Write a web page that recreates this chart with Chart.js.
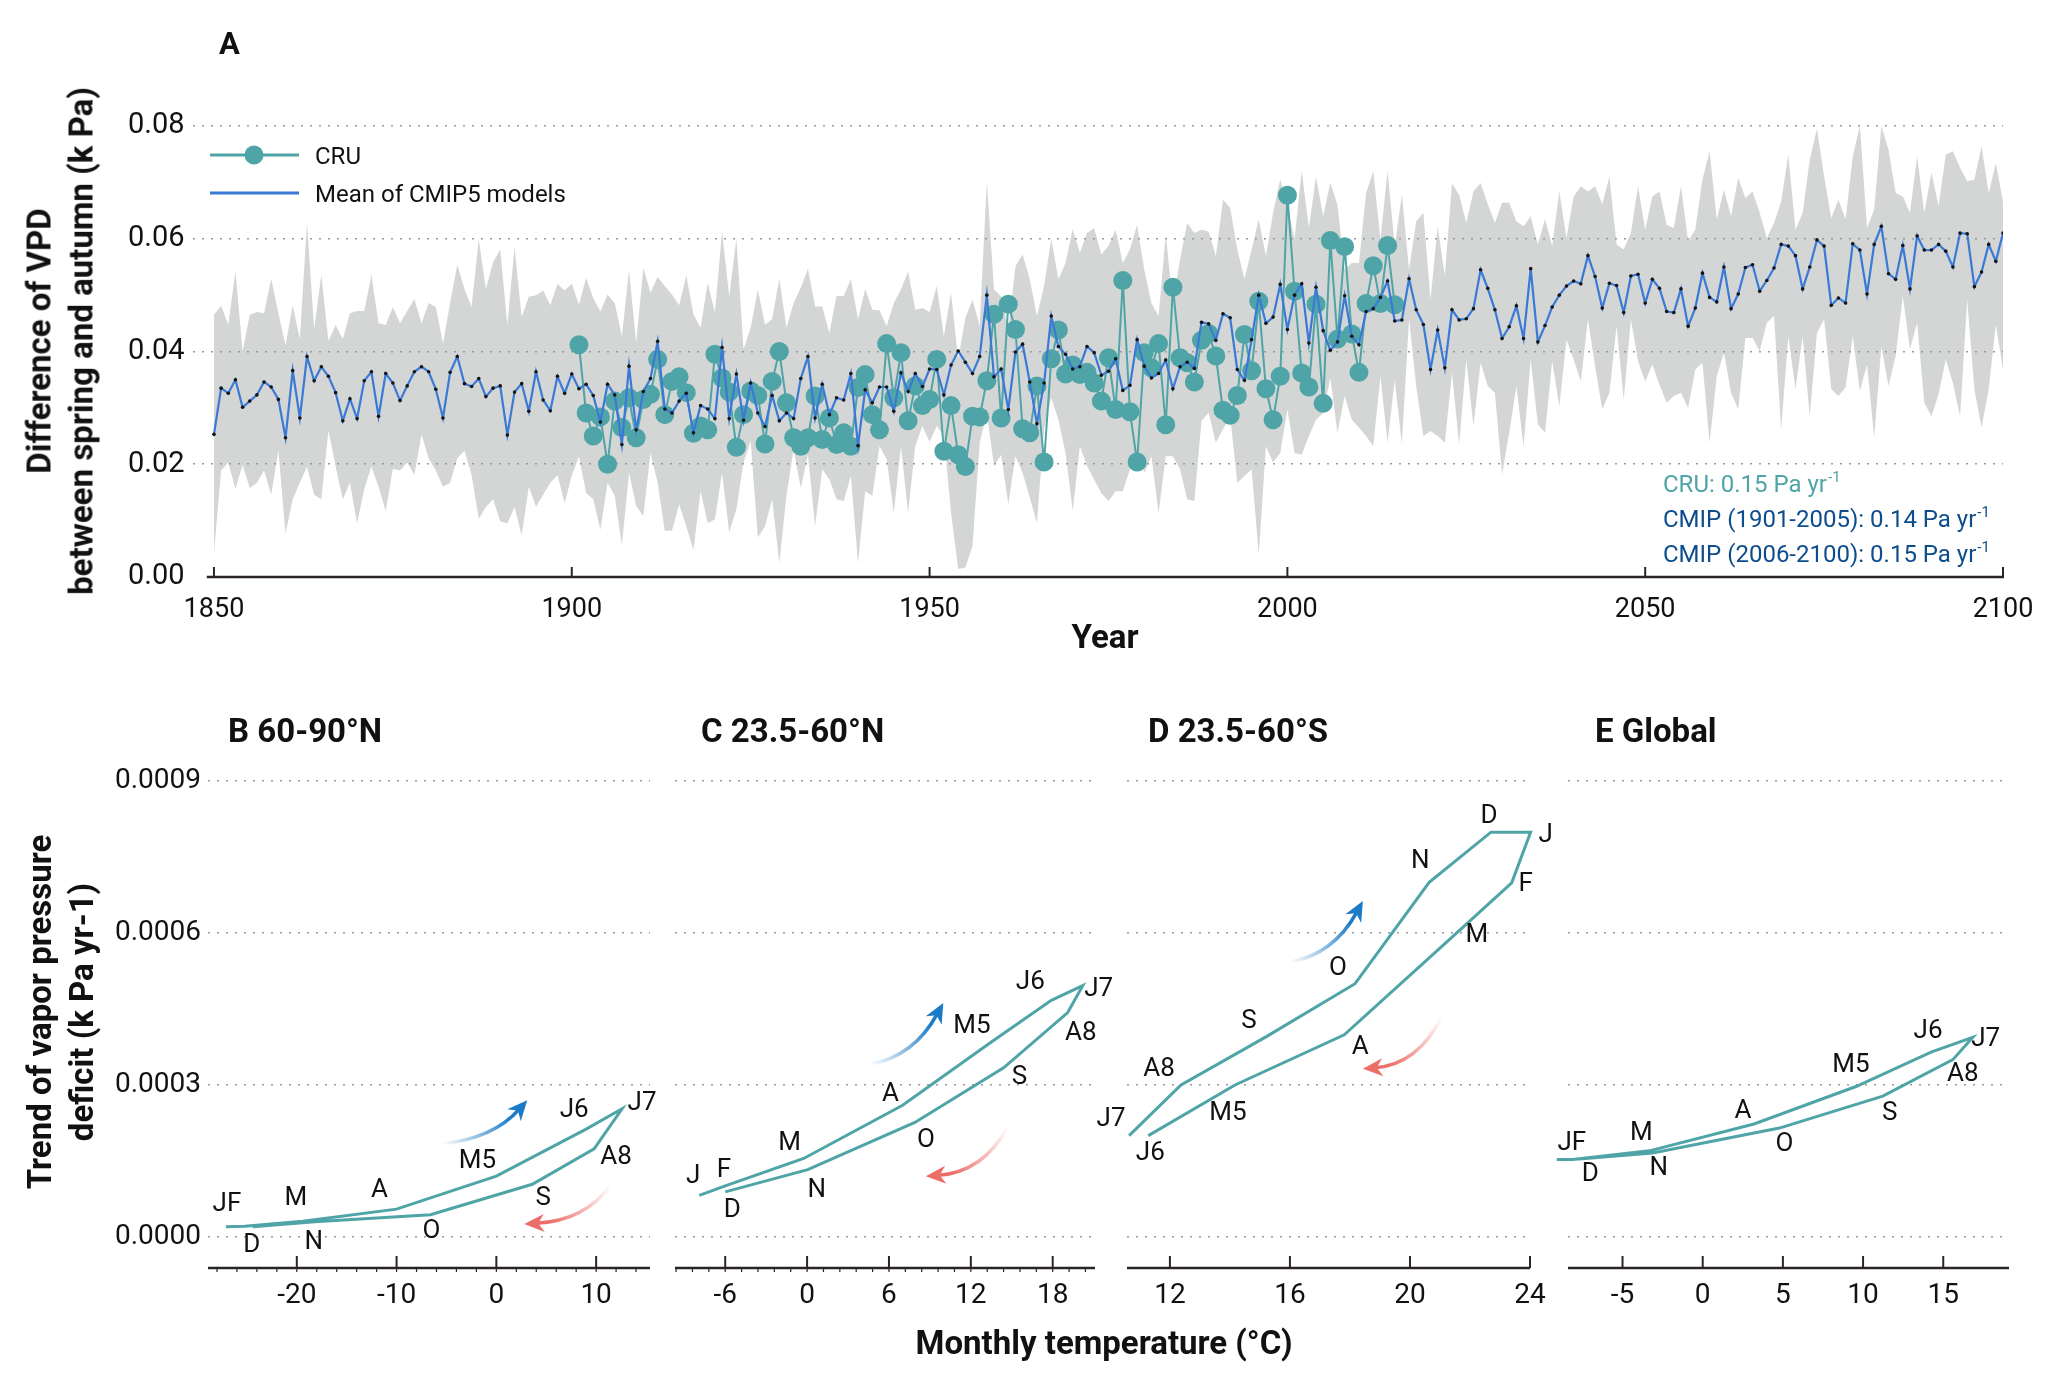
<!DOCTYPE html>
<html>
<head>
<meta charset="utf-8">
<title>VPD difference and trends</title>
<script src="https://cdn.jsdelivr.net/npm/chart.js@4.4.1/dist/chart.umd.min.js"></script>
<style>
  html, body { margin: 0; padding: 0; background: #fff; }
  #fig { position: relative; width: 2056px; height: 1398px; overflow: hidden; font-family: Roboto, sans-serif; color: #111; background: #fff; }
  #fig canvas { position: absolute; }
  .ttl { position: absolute; font-weight: bold; font-size: 33px; white-space: nowrap; line-height: 1; transform: translate(-50%, -50%); }
  .rot { transform: translate(-50%, -50%) rotate(-90deg); }
</style>
</head>
<body>
<div id="fig">
  <canvas id="top" width="2056" height="660" style="left:0;top:0;width:2056px;height:660px"></canvas>
  <canvas id="pB" width="680" height="640" style="left:0;top:700px;width:680px;height:640px"></canvas>
  <canvas id="pC" width="465" height="640" style="left:655px;top:700px;width:465px;height:640px"></canvas>
  <canvas id="pD" width="495" height="640" style="left:1080px;top:700px;width:495px;height:640px"></canvas>
  <canvas id="pE" width="511" height="640" style="left:1545px;top:700px;width:511px;height:640px"></canvas>

  <div class="ttl rot" style="left:39px;top:341px">Difference of VPD</div>
  <div class="ttl rot" style="left:81px;top:341px">between spring and autumn (k Pa)</div>
  <div class="ttl" style="left:1105px;top:636px">Year</div>
  <div class="ttl rot" style="left:39px;top:1012px">Trend of vapor pressure</div>
  <div class="ttl rot" style="left:81px;top:1012px">deficit (k Pa yr-1)</div>
  <div class="ttl" style="left:1104px;top:1342px">Monthly temperature (°C)</div>
</div>

<script>
// ---- Panel A data (kPa), yearly values ----
const cmipStartYear = 1850;
const cruStartYear = 1901;

// mean of CMIP5 models, 1850-2100
const cmipMean = [
  0.0253, 0.0335, 0.0326, 0.0350, 0.0301, 0.0312, 0.0323, 0.0346, 0.0337, 0.0315,
  0.0247, 0.0366, 0.0282, 0.0391, 0.0348, 0.0373, 0.0356, 0.0327, 0.0277, 0.0316,
  0.0281, 0.0348, 0.0364, 0.0285, 0.0361, 0.0344, 0.0313, 0.0339, 0.0364, 0.0373,
  0.0364, 0.0333, 0.0282, 0.0363, 0.0391, 0.0343, 0.0338, 0.0352, 0.0320, 0.0335,
  0.0339, 0.0252, 0.0328, 0.0343, 0.0294, 0.0364, 0.0314, 0.0295, 0.0356, 0.0326,
  0.0360, 0.0334, 0.0342, 0.0322, 0.0275, 0.0342, 0.0323, 0.0235, 0.0374, 0.0261,
  0.0329, 0.0352, 0.0418, 0.0298, 0.0291, 0.0312, 0.0326, 0.0256, 0.0304, 0.0298,
  0.0281, 0.0407, 0.0281, 0.0360, 0.0278, 0.0344, 0.0291, 0.0267, 0.0322, 0.0277,
  0.0291, 0.0281, 0.0352, 0.0391, 0.0282, 0.0342, 0.0288, 0.0318, 0.0314, 0.0361,
  0.0233, 0.0332, 0.0309, 0.0337, 0.0337, 0.0294, 0.0362, 0.0329, 0.0361, 0.0338,
  0.0369, 0.0368, 0.0323, 0.0376, 0.0401, 0.0381, 0.0361, 0.0391, 0.0500, 0.0355,
  0.0369, 0.0297, 0.0399, 0.0413, 0.0346, 0.0272, 0.0344, 0.0463, 0.0409, 0.0395,
  0.0369, 0.0373, 0.0409, 0.0398, 0.0358, 0.0365, 0.0387, 0.0331, 0.0340, 0.0421,
  0.0374, 0.0353, 0.0361, 0.0385, 0.0334, 0.0373, 0.0381, 0.0370, 0.0452, 0.0449,
  0.0420, 0.0467, 0.0460, 0.0368, 0.0349, 0.0421, 0.0500, 0.0450, 0.0461, 0.0519,
  0.0439, 0.0500, 0.0520, 0.0415, 0.0514, 0.0437, 0.0402, 0.0417, 0.0499, 0.0427,
  0.0412, 0.0471, 0.0476, 0.0496, 0.0525, 0.0454, 0.0456, 0.0529, 0.0474, 0.0448,
  0.0368, 0.0438, 0.0371, 0.0474, 0.0456, 0.0458, 0.0476, 0.0545, 0.0512, 0.0474,
  0.0423, 0.0444, 0.0481, 0.0423, 0.0547, 0.0417, 0.0446, 0.0479, 0.0500, 0.0516,
  0.0525, 0.0520, 0.0570, 0.0533, 0.0477, 0.0521, 0.0517, 0.0469, 0.0534, 0.0537,
  0.0486, 0.0528, 0.0512, 0.0471, 0.0469, 0.0511, 0.0445, 0.0477, 0.0539, 0.0496,
  0.0488, 0.0550, 0.0476, 0.0502, 0.0549, 0.0554, 0.0507, 0.0526, 0.0548, 0.0590,
  0.0587, 0.0570, 0.0511, 0.0550, 0.0598, 0.0587, 0.0482, 0.0495, 0.0486, 0.0591,
  0.0580, 0.0502, 0.0590, 0.0622, 0.0538, 0.0528, 0.0588, 0.0511, 0.0605, 0.0580,
  0.0580, 0.0590, 0.0578, 0.0550, 0.0610, 0.0609, 0.0515, 0.0541, 0.0590, 0.0560,
  0.0610
];

// model spread, upper edge, 1850-2100
const bandUpper = [
  0.0465, 0.0481, 0.0447, 0.0543, 0.0400, 0.0465, 0.0470, 0.0468, 0.0529, 0.0468,
  0.0411, 0.0482, 0.0422, 0.0628, 0.0439, 0.0536, 0.0418, 0.0447, 0.0422, 0.0468,
  0.0472, 0.0472, 0.0536, 0.0450, 0.0447, 0.0479, 0.0450, 0.0472, 0.0493, 0.0450,
  0.0486, 0.0479, 0.0414, 0.0486, 0.0554, 0.0511, 0.0479, 0.0599, 0.0511, 0.0558,
  0.0581, 0.0447, 0.0585, 0.0461, 0.0497, 0.0500, 0.0508, 0.0482, 0.0520, 0.0508,
  0.0520, 0.0483, 0.0531, 0.0495, 0.0471, 0.0501, 0.0486, 0.0427, 0.0544, 0.0415,
  0.0548, 0.0504, 0.0532, 0.0516, 0.0501, 0.0482, 0.0535, 0.0466, 0.0442, 0.0522,
  0.0469, 0.0613, 0.0498, 0.0600, 0.0404, 0.0442, 0.0510, 0.0448, 0.0457, 0.0529,
  0.0442, 0.0486, 0.0513, 0.0547, 0.0480, 0.0480, 0.0433, 0.0499, 0.0498, 0.0528,
  0.0457, 0.0511, 0.0474, 0.0473, 0.0445, 0.0486, 0.0510, 0.0542, 0.0474, 0.0477,
  0.0470, 0.0516, 0.0427, 0.0504, 0.0386, 0.0460, 0.0492, 0.0445, 0.0702, 0.0510,
  0.0498, 0.0439, 0.0551, 0.0572, 0.0528, 0.0463, 0.0516, 0.0600, 0.0528, 0.0557,
  0.0617, 0.0575, 0.0610, 0.0619, 0.0572, 0.0587, 0.0616, 0.0557, 0.0581, 0.0625,
  0.0545, 0.0486, 0.0463, 0.0607, 0.0486, 0.0563, 0.0628, 0.0610, 0.0616, 0.0613,
  0.0569, 0.0669, 0.0655, 0.0581, 0.0528, 0.0581, 0.0634, 0.0569, 0.0646, 0.0705,
  0.0660, 0.0600, 0.0720, 0.0620, 0.0710, 0.0640, 0.0700, 0.0660, 0.0545, 0.0557,
  0.0557, 0.0681, 0.0720, 0.0599, 0.0720, 0.0587, 0.0678, 0.0545, 0.0631, 0.0646,
  0.0492, 0.0622, 0.0534, 0.0698, 0.0678, 0.0628, 0.0684, 0.0699, 0.0661, 0.0628,
  0.0664, 0.0664, 0.0631, 0.0622, 0.0640, 0.0590, 0.0635, 0.0587, 0.0684, 0.0601,
  0.0675, 0.0693, 0.0684, 0.0693, 0.0661, 0.0710, 0.0590, 0.0581, 0.0610, 0.0693,
  0.0616, 0.0675, 0.0684, 0.0625, 0.0619, 0.0693, 0.0596, 0.0616, 0.0705, 0.0755,
  0.0634, 0.0687, 0.0640, 0.0708, 0.0672, 0.0684, 0.0646, 0.0601, 0.0628, 0.0666,
  0.0749, 0.0616, 0.0646, 0.0740, 0.0795, 0.0711, 0.0637, 0.0669, 0.0634, 0.0746,
  0.0800, 0.0619, 0.0652, 0.0800, 0.0758, 0.0681, 0.0675, 0.0646, 0.0746, 0.0646,
  0.0717, 0.0658, 0.0749, 0.0755, 0.0726, 0.0702, 0.0705, 0.0764, 0.0681, 0.0734,
  0.0666
];

// model spread, lower edge, 1850-2100
const bandLower = [
  0.0042, 0.0189, 0.0203, 0.0156, 0.0199, 0.0158, 0.0167, 0.0189, 0.0146, 0.0224,
  0.0077, 0.0138, 0.0167, 0.0196, 0.0146, 0.0138, 0.0260, 0.0196, 0.0138, 0.0167,
  0.0095, 0.0156, 0.0196, 0.0160, 0.0117, 0.0192, 0.0189, 0.0203, 0.0181, 0.0253,
  0.0210, 0.0189, 0.0160, 0.0167, 0.0210, 0.0224, 0.0181, 0.0103, 0.0124, 0.0138,
  0.0099, 0.0095, 0.0124, 0.0074, 0.0160, 0.0124, 0.0146, 0.0167, 0.0181, 0.0131,
  0.0180, 0.0214, 0.0149, 0.0138, 0.0084, 0.0167, 0.0144, 0.0056, 0.0185, 0.0126,
  0.0108, 0.0220, 0.0167, 0.0082, 0.0082, 0.0129, 0.0090, 0.0048, 0.0152, 0.0096,
  0.0102, 0.0185, 0.0079, 0.0120, 0.0203, 0.0241, 0.0070, 0.0090, 0.0138, 0.0025,
  0.0144, 0.0226, 0.0158, 0.0217, 0.0090, 0.0191, 0.0173, 0.0138, 0.0135, 0.0179,
  0.0025, 0.0152, 0.0144, 0.0232, 0.0209, 0.0114, 0.0232, 0.0114, 0.0232, 0.0268,
  0.0240, 0.0268, 0.0250, 0.0114, 0.0014, 0.0017, 0.0055, 0.0238, 0.0291, 0.0197,
  0.0217, 0.0129, 0.0214, 0.0185, 0.0141, 0.0096, 0.0262, 0.0318, 0.0279, 0.0220,
  0.0117, 0.0232, 0.0197, 0.0173, 0.0149, 0.0135, 0.0152, 0.0152, 0.0191, 0.0229,
  0.0185, 0.0214, 0.0114, 0.0214, 0.0214, 0.0191, 0.0138, 0.0135, 0.0277, 0.0291,
  0.0238, 0.0262, 0.0285, 0.0167, 0.0179, 0.0191, 0.0040, 0.0232, 0.0203, 0.0220,
  0.0297, 0.0220, 0.0217, 0.0250, 0.0279, 0.0291, 0.0353, 0.0256, 0.0321, 0.0279,
  0.0265, 0.0250, 0.0232, 0.0356, 0.0238, 0.0350, 0.0235, 0.0457, 0.0339, 0.0250,
  0.0259, 0.0250, 0.0238, 0.0362, 0.0235, 0.0386, 0.0268, 0.0380, 0.0339, 0.0327,
  0.0182, 0.0256, 0.0339, 0.0232, 0.0386, 0.0271, 0.0256, 0.0383, 0.0303, 0.0421,
  0.0386, 0.0347, 0.0457, 0.0374, 0.0297, 0.0327, 0.0445, 0.0315, 0.0457, 0.0383,
  0.0347, 0.0377, 0.0341, 0.0309, 0.0321, 0.0327, 0.0300, 0.0368, 0.0380, 0.0238,
  0.0356, 0.0398, 0.0327, 0.0297, 0.0424, 0.0424, 0.0401, 0.0451, 0.0463, 0.0262,
  0.0427, 0.0333, 0.0427, 0.0285, 0.0433, 0.0457, 0.0333, 0.0321, 0.0336, 0.0427,
  0.0330, 0.0377, 0.0247, 0.0409, 0.0339, 0.0392, 0.0498, 0.0404, 0.0451, 0.0309,
  0.0285, 0.0324, 0.0386, 0.0344, 0.0285, 0.0492, 0.0333, 0.0265, 0.0333, 0.0448,
  0.0368
];

// CRU observations, 1901-2015
const cruVpd = [
  0.0412, 0.0291, 0.0250, 0.0284, 0.0200, 0.0312, 0.0265, 0.0318, 0.0247, 0.0315,
  0.0324, 0.0386, 0.0288, 0.0347, 0.0355, 0.0327, 0.0255, 0.0268, 0.0261, 0.0395,
  0.0353, 0.0328, 0.0230, 0.0288, 0.0330, 0.0322, 0.0236, 0.0347, 0.0400, 0.0309,
  0.0247, 0.0232, 0.0247, 0.0321, 0.0244, 0.0282, 0.0235, 0.0256, 0.0232, 0.0336,
  0.0359, 0.0288, 0.0261, 0.0414, 0.0318, 0.0398, 0.0277, 0.0339, 0.0304, 0.0315,
  0.0386, 0.0223, 0.0304, 0.0217, 0.0196, 0.0285, 0.0284, 0.0348, 0.0466, 0.0282,
  0.0484, 0.0439, 0.0263, 0.0256, 0.0339, 0.0204, 0.0387, 0.0438, 0.0360, 0.0376,
  0.0359, 0.0363, 0.0344, 0.0312, 0.0389, 0.0297, 0.0526, 0.0293, 0.0204, 0.0398,
  0.0371, 0.0414, 0.0270, 0.0514, 0.0389, 0.0380, 0.0346, 0.0420, 0.0432, 0.0392,
  0.0296, 0.0287, 0.0322, 0.0430, 0.0366, 0.0489, 0.0334, 0.0279, 0.0356, 0.0677,
  0.0507, 0.0362, 0.0337, 0.0484, 0.0308, 0.0597, 0.0422, 0.0586, 0.0431, 0.0363,
  0.0485, 0.0552, 0.0485, 0.0588, 0.0483
];

const yearTicks = [1850, 1900, 1950, 2000, 2050, 2100];
const vpdTicks = [0, 0.02, 0.04, 0.06, 0.08];

// ---- Panels B-E: monthly temperature (degC) vs VPD trend (kPa/yr), in drawing order ----
const trendTicks = [0, 0.0003, 0.0006, 0.0009];

const monthsB = ['JF', '', 'M', 'A', 'M5', 'J6', 'J7', 'A8', 'S', 'O', 'N', 'D'];
const tempB  = [-27.1, -25.2, -19.4, -10.0, 0.0, 9.0, 12.6, 9.8, 3.6, -6.6, -18.2, -24.4];
const trendB = [0.000020, 0.000021, 0.000031, 0.000055, 0.000120, 0.000213, 0.000253, 0.000174, 0.000104, 0.000044, 0.000030, 0.000020];
const tempTicksB = [-20, -10, 0, 10];

const monthsC = ['J', 'F', 'M', 'A', 'M5', 'J6', 'J7', 'A8', 'S', 'O', 'N', 'D'];
const tempC  = [-7.9, -6.1, -0.25, 7.0, 13.4, 17.9, 20.2, 19.1, 14.4, 7.9, 0.05, -6.0];
const trendC = [0.000082, 0.000100, 0.000155, 0.000260, 0.000383, 0.000467, 0.000496, 0.000443, 0.000334, 0.000226, 0.000133, 0.000089];
const tempTicksC = [-6, 0, 6, 12, 18];

const monthsD = ['J7', 'A8', 'S', 'O', 'N', 'D', 'J', 'F', 'M', 'A', 'M5', 'J6'];
const tempD  = [10.64, 12.37, 15.2, 18.17, 20.64, 22.7, 24.02, 23.39, 21.33, 17.81, 14.17, 11.28];
const trendD = [0.000200, 0.000300, 0.000395, 0.000500, 0.000700, 0.000799, 0.000799, 0.000699, 0.000588, 0.000399, 0.000300, 0.000200];
const tempTicksD = [12, 16, 20, 24];

const monthsE = ['', 'JF', 'M', 'A', 'M5', 'J6', 'J7', 'A8', 'S', 'O', 'N', 'D'];
const tempE  = [-9.1, -8.1, -3.33, 3.2, 9.56, 14.24, 16.84, 15.6, 11.23, 4.78, -3.12, -7.7];
const trendE = [0.000153, 0.000153, 0.000170, 0.000223, 0.000297, 0.000365, 0.000394, 0.000350, 0.000278, 0.000215, 0.000166, 0.000154];
const tempTicksE = [-5, 0, 5, 10, 15];

// ---- styling ----
const TEAL = '#4fa4a7';
const BLUE = '#3a79d5';
const AXIS = '#2b2424';
const GRID = '#9a9a9a';
const TXT = '#111';
const FONT = 'Roboto';

Chart.defaults.font.family = FONT;
Chart.defaults.color = TXT;

const pts = (start, vals) => vals.map((v, i) => ({ x: start + i, y: v }));

// draw text with a small superscript tail
function supText(ctx, main, sup, x, y, size) {
  ctx.font = size + 'px ' + FONT;
  ctx.fillText(main, x, y);
  const w = ctx.measureText(main).width;
  ctx.font = Math.round(size * 0.62) + 'px ' + FONT;
  ctx.fillText(sup, x + w + 1, y - size * 0.42);
}

// ---------- Panel A ----------
const topDecor = {
  id: 'topDecor',
  afterDraw(chart) {
    const { ctx, chartArea: ca, scales: { x } } = chart;
    ctx.save();
    // x axis line + ticks pointing up
    ctx.strokeStyle = AXIS;
    ctx.lineWidth = 2.5;
    ctx.beginPath();
    ctx.moveTo(x.getPixelForValue(1849), ca.bottom);
    ctx.lineTo(x.getPixelForValue(2100) + 1, ca.bottom);
    ctx.stroke();
    ctx.lineWidth = 2;
    yearTicks.forEach(v => {
      const p = x.getPixelForValue(v);
      ctx.beginPath();
      ctx.moveTo(p, ca.bottom);
      ctx.lineTo(p, ca.bottom - 10);
      ctx.stroke();
    });

    // panel letter
    ctx.fillStyle = TXT;
    ctx.textBaseline = 'alphabetic';
    ctx.textAlign = 'left';
    ctx.font = 'bold 31px ' + FONT;
    ctx.fillText('A', 219, 54);

    // legend
    ctx.lineWidth = 3;
    ctx.strokeStyle = TEAL;
    ctx.beginPath(); ctx.moveTo(210, 155); ctx.lineTo(299, 155); ctx.stroke();
    ctx.fillStyle = TEAL;
    ctx.beginPath(); ctx.arc(254, 155, 9.5, 0, Math.PI * 2); ctx.fill();
    ctx.strokeStyle = BLUE;
    ctx.beginPath(); ctx.moveTo(210, 193); ctx.lineTo(299, 193); ctx.stroke();
    ctx.fillStyle = TXT;
    ctx.font = '24px ' + FONT;
    ctx.fillText('CRU', 315, 164);
    ctx.fillText('Mean of CMIP5 models', 315, 202);

    // trend annotations
    ctx.fillStyle = TEAL;
    supText(ctx, 'CRU: 0.15 Pa yr', '-1', 1663, 492, 24);
    ctx.fillStyle = '#0d4d8c';
    supText(ctx, 'CMIP (1901-2005): 0.14 Pa yr', '-1', 1663, 527, 24);
    supText(ctx, 'CMIP (2006-2100): 0.15 Pa yr', '-1', 1663, 562, 24);
    ctx.restore();
  }
};

new Chart(document.getElementById('top'), {
  type: 'line',
  data: {
    datasets: [
      { label: 'Mean of CMIP5 models', data: pts(cmipStartYear, cmipMean), borderColor: BLUE, borderWidth: 2.2,
        pointRadius: 1.8, pointBackgroundColor: '#151515', pointBorderWidth: 0, tension: 0, order: 0 },
      { label: 'CRU', data: pts(cruStartYear, cruVpd), borderColor: TEAL, borderWidth: 2,
        pointRadius: 9.5, pointBackgroundColor: TEAL, pointBorderWidth: 0, tension: 0, order: 1 },
      { label: 'upper', data: pts(cmipStartYear, bandUpper), borderWidth: 0, pointRadius: 0,
        fill: '+1', backgroundColor: 'rgba(150,153,153,0.41)', tension: 0, order: 2 },
      { label: 'lower', data: pts(cmipStartYear, bandLower), borderWidth: 0, pointRadius: 0,
        fill: false, tension: 0, order: 3 }
    ]
  },
  options: {
    responsive: false,
    animation: false,
    events: [],
    layout: { padding: { left: 0, right: 53, top: 126, bottom: 0 } },
    plugins: { legend: { display: false }, tooltip: { enabled: false } },
    scales: {
      x: {
        type: 'linear', min: 1847, max: 2100,
        afterBuildTicks: s => { s.ticks = yearTicks.map(v => ({ value: v })); },
        afterFit: s => { s.height = 83; },
        ticks: { font: { size: 27 }, color: TXT, padding: 17, maxRotation: 0, callback: v => String(v) },
        grid: { display: false, drawTicks: false },
        border: { display: false }
      },
      y: {
        min: 0, max: 0.08,
        afterBuildTicks: s => { s.ticks = vpdTicks.map(v => ({ value: v })); },
        afterFit: s => { s.width = 192.5; },
        ticks: { font: { size: 29 }, color: TXT, padding: 8, callback: v => v.toFixed(2) },
        grid: { color: c => (c.tick && c.tick.value === 0 ? 'rgba(0,0,0,0)' : GRID), lineWidth: 1.6, drawTicks: false },
        border: { display: false, dash: [2, 7] }
      }
    }
  },
  plugins: [topDecor]
});

// ---------- Panels B-E ----------
const panels = [
  { id: 'pB', title: 'B 60-90°N', titleX: 228, canvasLeft: 0, padL: 0, padR: 30, yWidth: 208, showY: true,
    xMin: -28.9, xMax: 15.4, xTicks: tempTicksB, minorStep: 2,
    temp: tempB, trend: trendB, months: monthsB,
    offsets: [[1, -22], [0, 0], [-7, -23], [-17, -19], [-19, -15], [-12, -19], [20, -5], [22, 9], [11, 14], [1, 17], [-1, 21], [-1, 19]],
    arrows: [{ from: [-5.4, 0.000184], to: [3.1, 0.00027], up: true }, { from: [11.5, 0.000103], to: [2.8, 0.0000257], up: false }] },
  { id: 'pC', title: 'C 23.5-60°N', titleX: 701, canvasLeft: 655, padL: 20, padR: 25, yWidth: 0, showY: false,
    xMin: -9.68, xMax: 21.1, xTicks: tempTicksC, minorStep: 1.2,
    temp: tempC, trend: trendC, months: monthsC,
    offsets: [[-6, -19], [0, -16], [-14, -15], [-12, -11], [-18, -16], [-21, -18], [16, 4], [13, 21], [16, 10], [11, 18], [9, 21], [7, 19]],
    arrows: [{ from: [4.6, 0.000341], to: [9.98, 0.000462], up: true }, { from: [14.7, 0.000217], to: [8.7, 0.00012], up: false }] },
  { id: 'pD', title: 'D 23.5-60°S', titleX: 1148, canvasLeft: 1080, padL: 47, padR: 45, yWidth: 0, showY: false,
    xMin: 10.57, xMax: 24.0, xTicks: tempTicksD, minorStep: 0,
    temp: tempD, trend: trendD, months: monthsD,
    offsets: [[-18, -16], [-22, -15], [-17, -15], [-17, -15], [-9, -21], [-2, -16], [15, 3], [14, 2], [27, -4], [16, 13], [-7, 29], [2, 18]],
    arrows: [{ from: [16.0, 0.000543], to: [18.43, 0.000663], up: true }, { from: [21.07, 0.000436], to: [18.43, 0.000332], up: false }] },
  { id: 'pE', title: 'E Global', titleX: 1595, canvasLeft: 1545, padL: 23, padR: 47, yWidth: 0, showY: false,
    xMin: -8.4, xMax: 19.1, xTicks: tempTicksE, minorStep: 0,
    temp: tempE, trend: trendE, months: monthsE,
    offsets: [[0, 0], [-1, -16], [-8, -17], [-11, -13], [-5, -21], [-3, -21], [13, 2], [10, 15], [7, 17], [5, 16], [6, 16], [11, 16]],
    arrows: [] }
];

function rgba(hex, a) {
  const n = parseInt(hex.slice(1), 16);
  return 'rgba(' + (n >> 16) + ',' + ((n >> 8) & 255) + ',' + (n & 255) + ',' + a + ')';
}

function drawArrow(ctx, x0, y0, x1, y1, up, color) {
  const dx = x1 - x0, dy = y1 - y0;
  const cx = up ? x0 + 0.6 * dx : x0 + 0.3 * dx;
  const cy = up ? y0 + 0.12 * dy : y0 + 0.92 * dy;
  const ang = Math.atan2(y1 - cy, x1 - cx);
  const L = 20, W = 9;
  // stop the shaft a little before the tip so it hides under the head
  const ex = x1 - Math.cos(ang) * L * 0.6, ey = y1 - Math.sin(ang) * L * 0.6;
  const g = ctx.createLinearGradient(x0, y0, x1, y1);
  g.addColorStop(0, rgba(color, 0));
  g.addColorStop(0.75, rgba(color, 1));
  g.addColorStop(1, rgba(color, 1));
  ctx.strokeStyle = g;
  ctx.lineWidth = 3.5;
  ctx.lineCap = 'round';
  ctx.beginPath();
  ctx.moveTo(x0, y0);
  ctx.quadraticCurveTo(cx, cy, ex, ey);
  ctx.stroke();
  const bx = x1 - Math.cos(ang) * L, by = y1 - Math.sin(ang) * L;
  const nx = -Math.sin(ang), ny = Math.cos(ang);
  const mx = x1 - Math.cos(ang) * L * 0.7, my = y1 - Math.sin(ang) * L * 0.7;
  ctx.fillStyle = color;
  ctx.beginPath();
  ctx.moveTo(x1, y1);
  ctx.lineTo(bx + nx * W, by + ny * W);
  ctx.lineTo(mx, my);
  ctx.lineTo(bx - nx * W, by - ny * W);
  ctx.closePath();
  ctx.fill();
}

panels.forEach(p => {
  const decor = {
    id: 'decor' + p.id,
    afterDraw(chart) {
      const { ctx, chartArea: ca, scales: { x, y } } = chart;
      ctx.save();
      // axis line, major ticks up, minor ticks down
      ctx.strokeStyle = AXIS;
      ctx.lineWidth = 2.5;
      ctx.beginPath(); ctx.moveTo(ca.left, ca.bottom); ctx.lineTo(ca.right, ca.bottom); ctx.stroke();
      ctx.lineWidth = 2;
      p.xTicks.forEach(v => {
        const px = x.getPixelForValue(v);
        ctx.beginPath(); ctx.moveTo(px, ca.bottom); ctx.lineTo(px, ca.bottom - 12); ctx.stroke();
      });
      if (p.minorStep) {
        ctx.lineWidth = 1.2;
        for (let v = Math.ceil(p.xMin / p.minorStep) * p.minorStep; v <= p.xMax; v += p.minorStep) {
          const px = x.getPixelForValue(v);
          ctx.beginPath(); ctx.moveTo(px, ca.bottom); ctx.lineTo(px, ca.bottom + 4); ctx.stroke();
        }
      }
      // arrows
      p.arrows.forEach(a => {
        drawArrow(ctx, x.getPixelForValue(a.from[0]), y.getPixelForValue(a.from[1]),
          x.getPixelForValue(a.to[0]), y.getPixelForValue(a.to[1]), a.up, a.up ? '#1c7bc6' : '#ec6e69');
      });
      // month labels
      ctx.fillStyle = TXT;
      ctx.font = '26px ' + FONT;
      ctx.textAlign = 'center';
      ctx.textBaseline = 'middle';
      p.months.forEach((m, i) => {
        if (!m) return;
        const px = x.getPixelForValue(p.temp[i]) + p.offsets[i][0];
        const py = y.getPixelForValue(p.trend[i]) + p.offsets[i][1];
        ctx.fillText(m, px, py);
      });
      // panel title
      ctx.textAlign = 'left';
      ctx.textBaseline = 'alphabetic';
      ctx.font = 'bold 33px ' + FONT;
      ctx.fillText(p.title, p.titleX - p.canvasLeft, 42);
      ctx.restore();
    }
  };

  new Chart(document.getElementById(p.id), {
    type: 'line',
    data: {
      datasets: [{
        data: p.temp.map((t, i) => ({ x: t, y: p.trend[i] })),
        borderColor: TEAL, borderWidth: 3, pointRadius: 0, tension: 0,
        borderJoinStyle: 'miter', clip: false
      }]
    },
    options: {
      responsive: false,
      animation: false,
      events: [],
      layout: { padding: { left: p.padL, right: p.padR, top: 81, bottom: 0 } },
      plugins: { legend: { display: false }, tooltip: { enabled: false } },
      scales: {
        x: {
          type: 'linear', min: p.xMin, max: p.xMax,
          afterBuildTicks: s => { s.ticks = p.xTicks.map(v => ({ value: v })); },
          afterFit: s => { s.height = 72; },
          ticks: { font: { size: 28 }, color: TXT, padding: 11, maxRotation: 0, callback: v => String(v) },
          grid: { display: false, drawTicks: false },
          border: { display: false }
        },
        y: {
          min: -0.0000612, max: 0.0009,
          afterBuildTicks: s => { s.ticks = trendTicks.map(v => ({ value: v })); },
          afterFit: s => { s.width = p.yWidth; },
          ticks: { display: p.showY, font: { size: 28 }, color: TXT, padding: 7, callback: v => v.toFixed(4) },
          grid: { color: GRID, lineWidth: 1.6, drawTicks: false },
          border: { display: false, dash: [2, 7] }
        }
      }
    },
    plugins: [decor]
  });
});
</script>
</body>
</html>
